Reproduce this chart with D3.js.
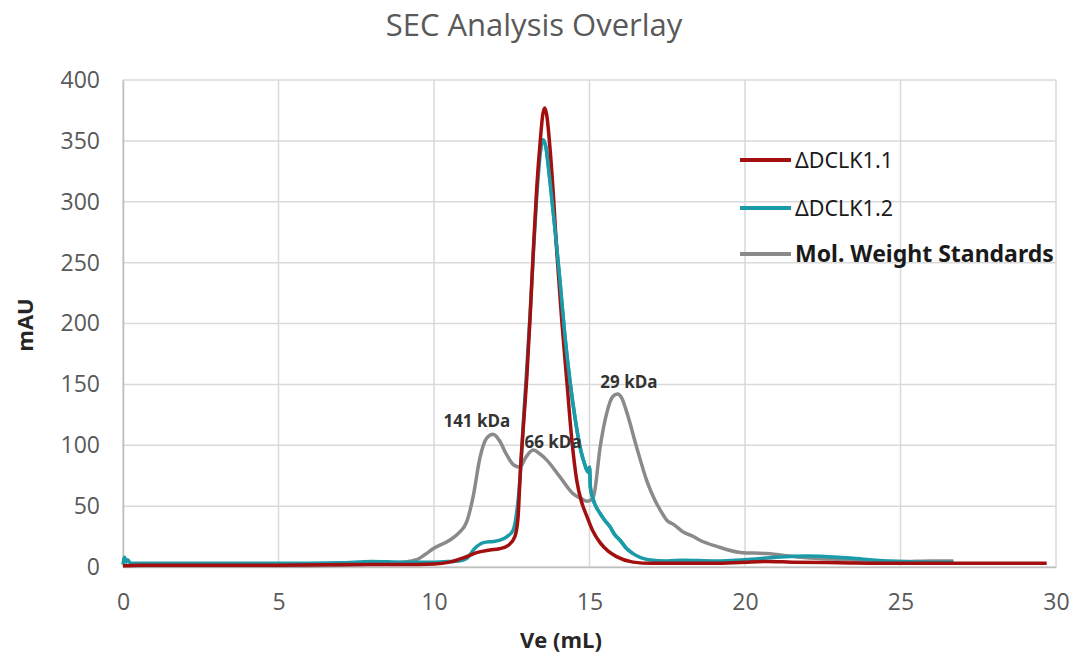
<!DOCTYPE html>
<html><head><meta charset="utf-8">
<script src="https://cdn.jsdelivr.net/npm/d3@7"></script>
<style>body{margin:0;background:#fff;} svg{display:block;}</style>
</head><body>
<svg id="chart" width="1075" height="658"></svg>
<script>
const title = "SEC Analysis Overlay";
const xTicks = [0,5,10,15,20,25,30];
const yTicks = [0,50,100,150,200,250,300,350,400];
const seriesNames = ["ΔDCLK1.1","ΔDCLK1.2","Mol. Weight Standards"];
const seriesColors = ["#a30f0f","#1b9aa8","#8a8a8a"];

const dclk11 = [[0,1],[0.5,1.5],[2,1.5],[5,1.5],[8,2],[9,2],[10,2.5],[10.5,4],[11,8],[11.4,12],[11.8,14],[12.1,15],[12.4,18],[12.6,25],[12.7,40],[12.78,80],[12.9,125],[12.98,154],[13.09,205],[13.19,258],[13.3,310],[13.41,348],[13.5,372],[13.56,377],[13.62,372],[13.73,344],[13.84,305],[13.94,262],[14.1,205],[14.27,153],[14.43,105],[14.59,71],[14.75,53],[14.91,42],[15.1,30],[15.34,20],[15.6,13],[15.87,8.5],[16.4,4],[17,3],[18,3],[19,3],[20,4],[20.7,4.5],[21.5,4],[23,3.5],[25,3],[27,3],[29.7,3]];
const dclk12 = [[0,2],[0.05,8],[0.1,4],[0.15,6],[0.25,3],[1,3],[3,3],[5,3],[7,3.5],[8,4.5],[9,4],[10,4],[10.5,4.5],[10.8,5],[11.05,7],[11.3,15],[11.59,20],[11.9,21],[12.12,22],[12.35,25],[12.54,30],[12.66,45],[12.76,71],[12.9,130],[13.0,170],[13.09,208],[13.2,260],[13.3,303],[13.42,340],[13.51,351],[13.6,345],[13.73,317],[13.9,275],[14.05,235],[14.2,192],[14.37,153],[14.55,120],[14.7,98],[14.85,84],[14.95,78],[15.0,82],[15.03,65],[15.1,57],[15.34,44],[15.5,38],[15.66,33],[15.8,27],[15.98,22],[16.2,15],[16.4,11],[16.9,6],[17.5,5],[18,5.5],[19,5],[20,6],[21,8],[22,9],[23,8],[24,6],[25,4.5],[26,4],[26.7,4]];
const mwStandards = [[0,1],[2,1],[5,1],[7,1.5],[8,2.5],[9,4],[9.44,6],[9.7,10],[9.97,15],[10.5,22],[10.8,28],[11.05,37],[11.26,58],[11.48,90],[11.7,106],[11.9,109],[12.1,104],[12.34,92],[12.55,84],[12.76,82],[12.95,90],[13.19,96],[13.4,93],[13.62,88],[14.05,74],[14.48,60],[14.75,56],[14.91,54],[15.05,55],[15.15,60],[15.34,98],[15.55,126],[15.75,140],[15.9,142],[16.05,138],[16.2,127],[16.52,98],[16.84,71],[17.1,55],[17.27,47],[17.5,38],[17.7,35],[18.0,29],[18.34,25],[18.55,22],[19.09,17],[19.84,12],[20.7,11],[21.77,8],[22.8,6.5],[24,5],[25,4.5],[26,5],[26.7,5]];
const annotations = [["141 kDa",11.38,115],["66 kDa",13.83,98],["29 kDa",16.27,147]];

const svg = d3.select("#chart");
const m = {left:123, right:1075-1056, top:80, bottom:658-567};
const W = 1075, H = 658;
const x = d3.scaleLinear().domain([0,30]).range([m.left, W-m.right]);
const y = d3.scaleLinear().domain([0,400]).range([H-m.bottom, m.top]);

// gridlines
svg.append("g").selectAll("line.h").data(yTicks).join("line")
  .attr("x1",x(0)).attr("x2",x(30)).attr("y1",d=>y(d)).attr("y2",d=>y(d))
  .attr("stroke","#d9d9d9").attr("stroke-width",1.5);
svg.append("g").selectAll("line.v").data(xTicks).join("line")
  .attr("y1",y(0)).attr("y2",y(400)).attr("x1",d=>x(d)).attr("x2",d=>x(d))
  .attr("stroke","#d9d9d9").attr("stroke-width",1.5);

// axes
const xAxis = svg.append("g").attr("transform",`translate(0,${y(0)})`)
  .call(d3.axisBottom(x).tickValues(xTicks).tickSize(0).tickPadding(27));
xAxis.select(".domain").attr("stroke","#bfbfbf").attr("stroke-width",1.5);
xAxis.selectAll("text").attr("font-family","Open Sans").attr("font-size",23).attr("fill","#595959");
const yAxis = svg.append("g").attr("transform",`translate(${x(0)},0)`)
  .call(d3.axisLeft(y).tickValues(yTicks).tickSize(0).tickPadding(23));
yAxis.select(".domain").attr("stroke","#bfbfbf").attr("stroke-width",1.5);
yAxis.selectAll("text").attr("font-family","Open Sans").attr("font-size",23).attr("fill","#595959");

// titles
svg.append("text").attr("x",534).attr("y",36).attr("text-anchor","middle")
  .attr("font-family","Open Sans").attr("font-size",31).attr("fill","#595959").text(title);
svg.append("text").attr("x",561).attr("y",648).attr("text-anchor","middle")
  .attr("font-family","Open Sans").attr("font-weight","bold").attr("font-size",22).attr("fill","#262626").text("Ve (mL)");
svg.append("text").attr("transform","translate(33,325) rotate(-90)").attr("text-anchor","middle")
  .attr("font-family","Open Sans").attr("font-weight","bold").attr("font-size",22).attr("fill","#262626").text("mAU");

// lines
const line = d3.line().x(d=>x(d[0])).y(d=>y(d[1])).curve(d3.curveMonotoneX);
svg.append("path").datum(mwStandards).attr("d",line).attr("fill","none").attr("stroke",seriesColors[2]).attr("stroke-width",3.5);
svg.append("path").datum(dclk12).attr("d",line).attr("fill","none").attr("stroke",seriesColors[1]).attr("stroke-width",3.5);
svg.append("path").datum(dclk11).attr("d",line).attr("fill","none").attr("stroke",seriesColors[0]).attr("stroke-width",3.5);
svg.append("path").datum(dclk12.filter(d=>d[0]>=13.6 && d[0]<=16.5)).attr("d",line).attr("fill","none").attr("stroke",seriesColors[1]).attr("stroke-width",3.5);

// annotations
svg.append("g").selectAll("text").data(annotations).join("text")
  .attr("x",d=>x(d[1])).attr("y",d=>y(d[2])).attr("text-anchor","middle")
  .attr("font-family","Open Sans").attr("font-weight","bold").attr("font-size",17).attr("fill","#333")
  .text(d=>d[0]);

// legend
const leg = svg.append("g");
const rows = [160,208,254];
seriesNames.forEach((n,i)=>{
  leg.append("line").attr("x1",740).attr("x2",791).attr("y1",rows[i]).attr("y2",rows[i])
    .attr("stroke",seriesColors[i]).attr("stroke-width",4);
  leg.append("text").attr("x",795).attr("y",rows[i]+8)
    .attr("font-family","Noto Sans").attr("font-size", i==2?23:21.5).attr("font-weight", i==2?"bold":"normal")
    .attr("fill","#1a1a1a").text(n);
});
</script>
</body></html>
